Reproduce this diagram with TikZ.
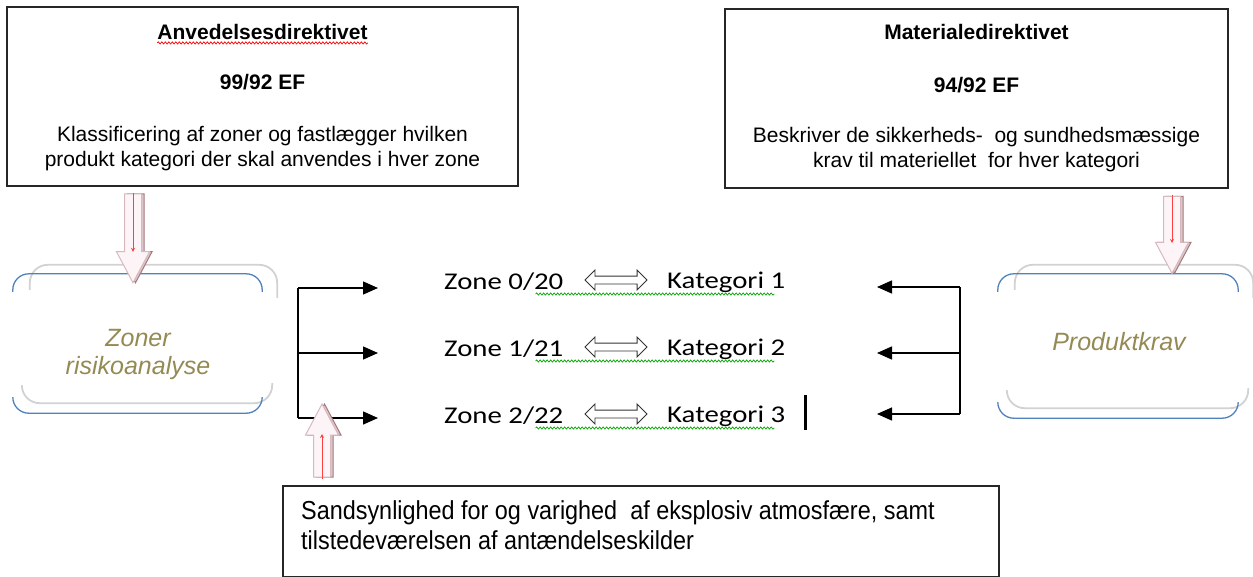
\documentclass[tikz,border=0pt]{standalone}
\usepackage{fontspec}
\setmainfont{Liberation Sans}
\newfontfamily\calfont[FakeStretch=1.2]{Carlito}
\newfontfamily\narrowfont[FakeStretch=0.9]{Liberation Sans}
\usetikzlibrary{arrows.meta,positioning,shapes.arrows,decorations.pathmorphing}

\definecolor{olive}{RGB}{148,138,84}
\definecolor{frameblue}{RGB}{79,129,189}
\definecolor{pinkedge}{RGB}{215,185,190}
\definecolor{pinkfill}{RGB}{252,244,246}
\definecolor{pinkshade}{RGB}{165,120,125}

\tikzset{
  dirbox/.style={draw=black!85,line width=1.5pt,minimum width=#1,minimum height=179pt,inner sep=0pt},
  dirtxt/.style={align=center,inner sep=0pt,font=\fontsize{21}{25}\selectfont},
  softbox/.style={minimum width=#1,inner sep=0pt},
  softtxt/.style={align=center,inner sep=0pt,text=olive,font=\fontsize{25}{28}\selectfont\itshape},
  bluecurve/.style={frameblue,line width=1.3pt,rounded corners=16pt},
  shadowcurve/.style={gray!35,line width=1.8pt,rounded corners=18pt},
  hollowarrow/.style={single arrow,draw=pinkedge,fill=pinkfill,line width=1pt,inner xsep=0pt,inner ysep=8pt,single arrow head extend=8pt,single arrow tip angle=56,single arrow head indent=0pt},
  arrowshade/.style={hollowarrow,draw=pinkshade,fill=pinkshade!40},
  redline/.style={red!75,line width=0.8pt,-{Stealth[length=4pt,width=4pt]}},
  zonetxt/.style={anchor=west,font=\calfont\fontsize{24}{26}\selectfont,inner sep=0pt},
  bracket/.style={line width=1.4pt},
  feed/.style={line width=1.4pt,-{Triangle[length=15pt,width=13pt]}},
  equiv/.style={double arrow,draw=black!80,line width=0.9pt,fill=white,inner xsep=0pt,inner ysep=3.5pt,double arrow head extend=6pt,double arrow tip angle=90,minimum height=62pt},
  spell/.style={decorate,decoration={snake,amplitude=1.1pt,segment length=3.5pt},line width=0.7pt}
}

\begin{document}
\begin{tikzpicture}[x=1pt,y=-1pt]
\useasboundingbox (0,0) rectangle (1253,576);

% the two directives
\node[dirbox=511pt] (anv) at (262.5,96.5) {};
\node[dirtxt] (anvtitle) at (262.5,32) {\textbf{Anvedelsesdirektivet}};
\node[dirtxt] (anvnum) at (262.5,82) {\textbf{99/92 EF}};
\node[dirtxt] (anvtxt) at (262.5,149) {Klassificering af zoner og fastlægger hvilken\\produkt kategori der skal anvendes i hver zone};
\draw[red,spell] ([yshift=-3pt]anvtitle.south west) -- ([yshift=-3pt]anvtitle.south east);
\node[dirbox=503pt] (mat) at (976.5,98.5) {};
\node[dirtxt] (mattitle) at (976.5,32) {\textbf{Materialedirektivet}};
\node[dirtxt] (matnum) at (976.5,85) {\textbf{94/92 EF}};
\node[dirtxt] (mattxt) at (976.5,149.5) {Beskriver de sikkerheds-\ \ og sundhedsmæssige\\krav til materiellet\ \ for hver kategori};

% soft boxes
\node[softbox=249pt,minimum height=139pt] (zoner) at (137.5,343.5) {};
\node[softtxt] (zonertxt) at (138,354) {Zoner\\risikoanalyse};
\node[softbox=240pt,minimum height=144pt] (prod) at (1118,346) {};
\node[softtxt] (prodtxt) at (1119,342) {Produktkrav};
\foreach \b in {zoner,prod}{
  \draw[shadowcurve] ([xshift=17pt,yshift=-16pt]\b.north west) |- ([yshift=9pt]\b.north) -| ([xshift=15pt,yshift=-24pt]\b.north east);
  \draw[shadowcurve] ([xshift=9pt,yshift=28pt]\b.south west) |- ([yshift=10pt]\b.south) -| ([xshift=10pt,yshift=30pt]\b.south east);
  \draw[bluecurve] ([yshift=-18pt]\b.north west) |- (\b.north) -| ([yshift=-18pt]\b.north east);
  \draw[bluecurve] ([yshift=16pt]\b.south west) |- (\b.south) -| ([yshift=16pt]\b.south east);
}

% hollow arrows
\coordinate (a1) at (anv.south -| 133,0);
\coordinate (a2) at (zoner.north -| 133,0);
\path ([xshift=2.5pt]a1) -- ([xshift=2.5pt]a2) node[midway,sloped,arrowshade,minimum height=89pt] {};
\path (a1) -- (a2) node[midway,sloped,hollowarrow,minimum height=89pt] {};
\draw[redline] ([yshift=-6pt]a1) -- ([yshift=22pt]a2);
\coordinate (b1) at (mat.south -| 1172,0);
\coordinate (b2) at (1172,265);
\path ([xshift=2.5pt]b1) -- ([xshift=2.5pt]b2) node[midway,sloped,arrowshade,minimum height=77pt] {};
\path (b1) -- (b2) node[midway,sloped,hollowarrow,minimum height=77pt] {};
\draw[redline] ([yshift=-6pt]b1) -- ([yshift=22pt]b2);

% zones and categories
\foreach \i/\y/\k in {0/20/1,1/21/2,2/22/3}{
  \node[zonetxt] (zone\i) at (444,282+67*\i) {Zone \i/\y};
  \node[zonetxt] (kat\i) at (667,282+67*\i) {Kategori \k};
  \path ([xshift=-82pt,yshift=2pt]kat\i.west) -- ([xshift=-20pt,yshift=2pt]kat\i.west) node[midway,equiv] {};
  \draw[green!65!black,spell] ([xshift=-28pt,yshift=-12pt]zone\i.east) -- ([xshift=-11pt,yshift=-12pt]kat\i.east);
}
\draw[line width=2.8pt] ([xshift=20pt,yshift=21pt]kat2.east) -- ([xshift=20pt,yshift=-14pt]kat2.east);

% left bracket
\coordinate (lt) at (298,288);
\coordinate (lb) at (298,418);
\draw[bracket] (lt) -- (lb);
\foreach \i/\y in {0/288,1/353,2/418}{
  \coordinate (l\i) at (298,\y);
  \draw[feed] (l\i) -- (378,\y);
}

% right bracket
\coordinate (rt) at (960,287);
\coordinate (rb) at (960,414);
\draw[bracket] (rt) -- (rb);
\foreach \i/\y in {0/287,1/353,2/414}{
  \coordinate (r\i) at (960,\y);
  \draw[feed] (r\i) -- (877,\y);
}

% bottom box
\node[draw=black!85,line width=1.5pt,minimum width=716pt,minimum height=91pt,anchor=north west,inner sep=0pt] (cond) at (282,485) {};
\node[anchor=west,align=left,font=\narrowfont\fontsize{26}{30}\selectfont,inner sep=0pt] (condtxt) at (301,525) {Sandsynlighed for og varighed\ \ af eksplosiv atmosfære, samt\\tilstedeværelsen af antændelseskilder};
\coordinate (c1) at (cond.north -| 322,0);
\coordinate (c2) at (322,412);
\path ([xshift=2.5pt]c1) -- ([xshift=2.5pt]c2) node[midway,sloped,arrowshade,minimum height=73pt] {};
\path (c1) -- (c2) node[midway,sloped,hollowarrow,minimum height=73pt] {};
\draw[redline] ([yshift=6pt]c1) -- ([yshift=-22pt]c2);
\end{tikzpicture}
\end{document}
